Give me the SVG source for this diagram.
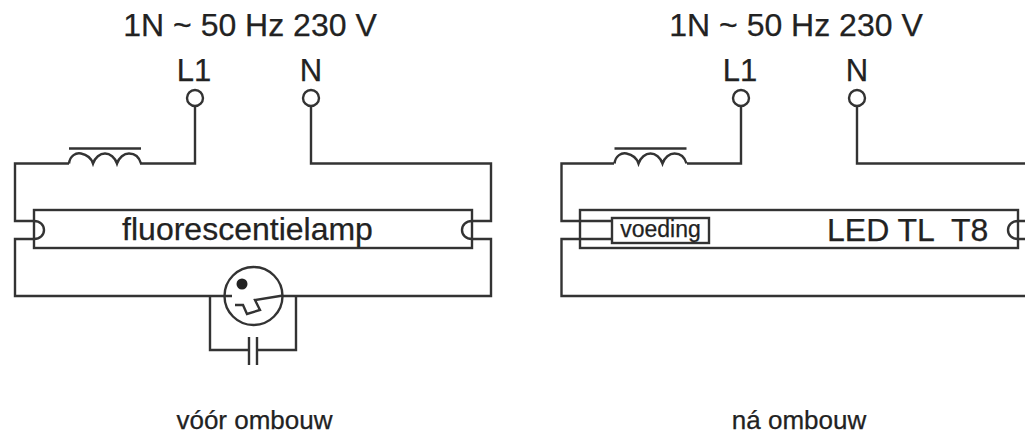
<svg xmlns="http://www.w3.org/2000/svg" width="1025" height="435" viewBox="0 0 1025 435">
<style>
.w{fill:none;stroke:#333;stroke-width:2.4;stroke-linejoin:miter}
.t{font-family:"Liberation Sans",Arial,sans-serif;fill:#222;stroke:#222;stroke-width:.25}
.m{text-anchor:middle}
</style>
<defs>
<g id="coil"><path class="w" d="M0 0C1-8 7-11 12-10C17-9 22-6 24 0C26-6 31-10 36-10C41-10 46-6 48 0C50-6 55-10 60-10C65-10 70-7 72 0"/><path class="w" d="M0-15H72"/></g>
</defs>
<rect width="1025" height="435" fill="#fff"/>
<g id="connectors">
<path class="w" d="M195 106V163.500H140M69 163.500H15V221H34M34 239H15V296H232M283 296H491V239H472M472 221H491V163.500H311V106"/>
<path class="w" d="M34 221C40 221 44 225 44 230C44 235 40 239 34 239"/>
<path class="w" d="M472 221C466 221 462 225 462 230C462 235 466 239 472 239"/>
<path class="w" d="M210 296V350H249M257 350H296V296"/>
<path class="w" d="M741 106V163.500H687M614 163.500H561.500V221H612M612 239H561.500V296H1025M857 106V163.500H1025"/>
<path class="w" d="M1018 221C1012 221 1008 225 1008 230C1008 235 1012 239 1018 239M1018 221H1025M1018 239H1025"/>
</g>
<g id="supply-left">
<text class="t m" x="250" y="36" font-size="32">1N ~ 50 Hz 230 V</text>
<text class="t m" x="194" y="81" font-size="31">L1</text>
<text class="t m" x="311" y="81" font-size="31">N</text>
<circle class="w" cx="195" cy="98" r="8"/>
<circle class="w" cx="311" cy="98" r="8"/>
</g>
<g id="coil-left"><use href="#coil" x="69" y="163.500"/></g>
<g id="lamp-left">
<rect class="w" x="34" y="210" width="438" height="38"/>
<text class="t m" x="247.500" y="240" font-size="32">fluorescentielamp</text>
</g>
<g id="starter">
<circle class="w" cx="253.500" cy="296" r="29"/>
<circle cx="242" cy="284" r="5.500" fill="#222"/>
<path class="w" d="M235 305L243 305L247 314L260 310L255 300L283 295.500"/>
</g>
<g id="capacitor">
<path class="w" d="M249 337V365M257 337V365"/>
</g>
<text id="caption-left" class="t m" x="254.500" y="429" font-size="26">vóór ombouw</text>
<g id="supply-right">
<text class="t m" x="796" y="36" font-size="32">1N ~ 50 Hz 230 V</text>
<text class="t m" x="740" y="81" font-size="31">L1</text>
<text class="t m" x="857" y="81" font-size="31">N</text>
<circle class="w" cx="741" cy="98" r="8"/>
<circle class="w" cx="857" cy="98" r="8"/>
</g>
<g id="coil-right"><use href="#coil" x="614.500" y="163.500"/></g>
<g id="lamp-right">
<rect class="w" x="580" y="210" width="438" height="38"/>
<text class="t" x="827" y="241" font-size="32" xml:space="preserve">LED TL  T8</text>
</g>
<g id="voeding">
<rect class="w" x="612" y="218" width="97" height="25"/>
<text class="t m" x="660.500" y="237" font-size="23">voeding</text>
</g>
<text id="caption-right" class="t m" x="799" y="429" font-size="26">ná ombouw</text>
</svg>
